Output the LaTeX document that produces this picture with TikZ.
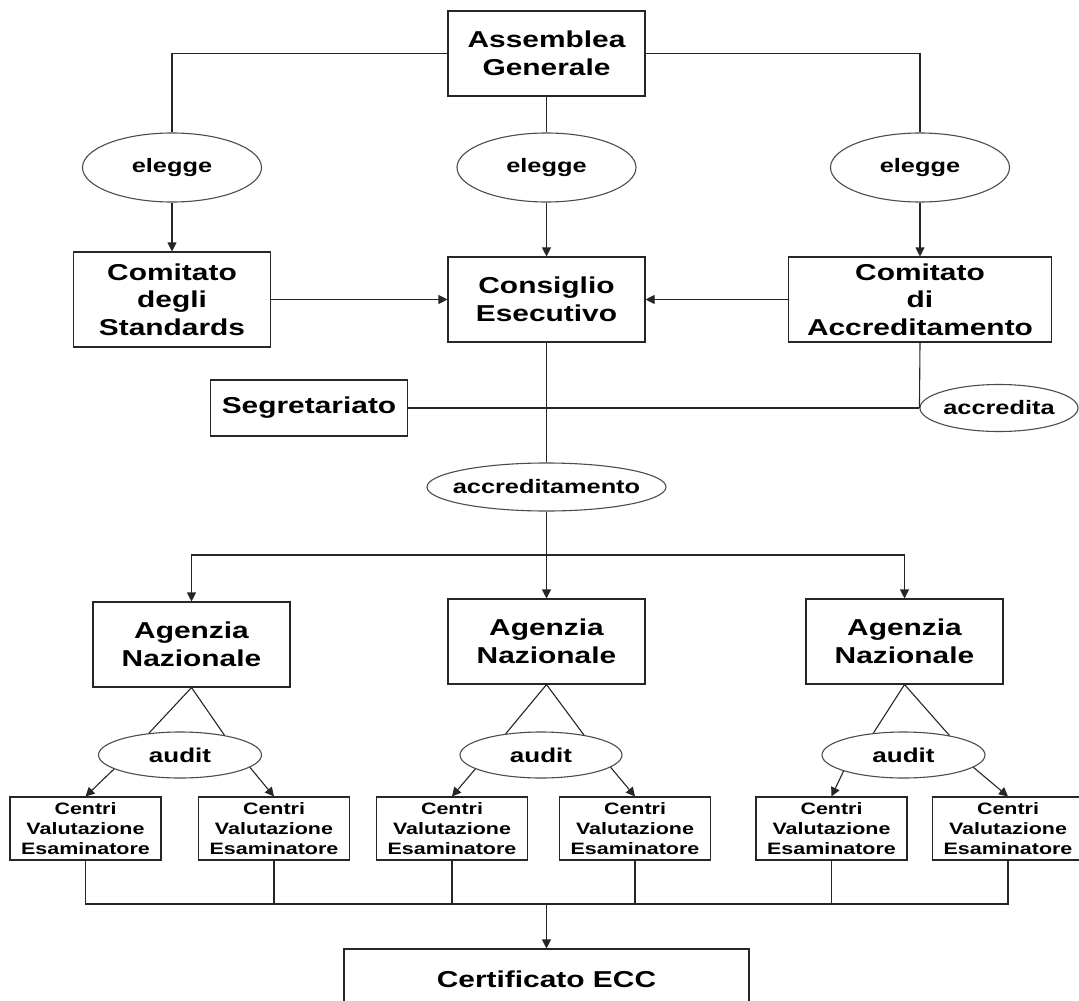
\documentclass[tikz,border=0pt]{standalone}
\usepackage{fontspec}
\newfontfamily\diagfont{Liberation Sans}[FakeStretch=1.3]
\usepackage{tikz}
\usetikzlibrary{shapes.geometric,arrows.meta}
\def\drawline{\draw[line width=1.1pt, color=black!85]}
\def\drawarrow{\draw[line width=1.1pt, color=black!85, -{Triangle[length=9pt,width=9pt]}]}
\newcommand\ovaltxt[1]{\makebox[0pt]{#1}}

\begin{document}
\begin{tikzpicture}[x=1pt,y=-1pt,
  box/.style={draw=black!85, line width=1.1pt, inner sep=0pt, align=center,
    minimum width=197pt, minimum height=85pt,
    font=\diagfont\bfseries\fontsize{23}{27.5}\selectfont},
  oval/.style={ellipse, draw=black!70, line width=1.1pt, inner sep=0pt,
    font=\diagfont\bfseries\fontsize{19.5}{22}\selectfont},
  centro/.style={draw=black!85, line width=1.1pt, inner sep=0pt, align=center,
    minimum width=151pt, minimum height=63pt,
    font=\diagfont\bfseries\fontsize{16.5}{20}\selectfont}]
\useasboundingbox (0,0) rectangle (1079,1001);
\fill[white] (0,0) rectangle (1079,1001);
% vertice
\node[box] (assem) at (546.5,53.5) {Assemblea\\Generale};
\node[oval, minimum width=179pt, minimum height=69pt] (elegl) at (172,167.5) {\ovaltxt{elegge}};
\node[oval, minimum width=179pt, minimum height=69pt] (elegm) at (546.5,167.5) {\ovaltxt{elegge}};
\node[oval, minimum width=179pt, minimum height=69pt] (elegr) at (920,167.5) {\ovaltxt{elegge}};
\node[box, minimum height=95pt] (comstd) at (172,299.5) {Comitato\\degli\\Standards};
\node[box] (consig) at (546.5,299.5) {Consiglio\\Esecutivo};
\node[box, minimum width=263pt] (comacc) at (920,299.5) {Comitato\\di\\Accreditamento};
\node[box, minimum height=56pt] (segr) at (309,408) {Segretariato};
\node[oval, minimum width=158pt, minimum height=47pt] (accr) at (999,408) {\ovaltxt{accredita}};
\node[oval, minimum width=239pt, minimum height=48pt] (accrm) at (546.5,487) {\ovaltxt{accreditamento}};
\coordinate (split) at (546.5,555);
\drawline (assem.west) -| (elegl.north);
\drawline (assem.east) -| (elegr.north);
\drawline (assem.south) -- (elegm.north);
\drawarrow (elegl.south) -- (comstd.north);
\drawarrow (elegm.south) -- (consig.north);
\drawarrow (elegr.south) -- (comacc.north);
\drawarrow (comstd.east) -- (consig.west);
\drawarrow (comacc.west) -- (consig.east);
\drawline (comacc.south) -- (accr.west);
\drawline (segr.east) -- (accr.west);
\drawline (consig.south) -- (accrm.north);
\drawline (accrm.south) -- (split);
% agenzie
\node[box] (agenl) at (191.5,644.5) {Agenzia\\Nazionale};
\node[box] (agenm) at (546.5,641.5) {Agenzia\\Nazionale};
\node[box] (agenr) at (904.5,641.5) {Agenzia\\Nazionale};
\drawarrow (split) -| (agenl.north);
\drawarrow (split) -- (agenm.north);
\drawarrow (split) -| (agenr.north);
\node[oval, minimum width=163pt, minimum height=46pt, font=\diagfont\bfseries\fontsize{20}{22}\selectfont] (audl) at (180,755) {\ovaltxt{audit}};
\node[oval, minimum width=162pt, minimum height=46pt, font=\diagfont\bfseries\fontsize{20}{22}\selectfont] (audm) at (541,755) {\ovaltxt{audit}};
\node[oval, minimum width=163pt, minimum height=46pt, font=\diagfont\bfseries\fontsize{20}{22}\selectfont] (audr) at (903.5,755) {\ovaltxt{audit}};
\drawline (audl.145) -- (agenl.south) -- (audl.24);
\drawline (audm.149) -- (agenm.south) -- (audm.25);
\drawline (audr.144) -- (agenr.south) -- (audr.23);
% centri
\node[centro] (cenA) at (85.5,828.5) {Centri\\Valutazione\\Esaminatore};
\node[centro] (cenB) at (274,828.5) {Centri\\Valutazione\\Esaminatore};
\node[centro] (cenC) at (452,828.5) {Centri\\Valutazione\\Esaminatore};
\node[centro] (cenD) at (635,828.5) {Centri\\Valutazione\\Esaminatore};
\node[centro] (cenE) at (831.5,828.5) {Centri\\Valutazione\\Esaminatore};
\node[centro] (cenF) at (1008,828.5) {Centri\\Valutazione\\Esaminatore};
\drawarrow (audl.192) -- (cenA.north);
\drawarrow (audl.-10) -- (cenB.north);
\drawarrow (audm.192) -- (cenC.north);
\drawarrow (audm.-10) -- (cenD.north);
\drawarrow (audr.195) -- (cenE.north);
\drawarrow (audr.-10) -- (cenF.north);
% certificato
\coordinate (join) at (546.5,904);
\node[box, minimum width=405pt, minimum height=61pt] (cert) at (546.5,979.5) {Certificato ECC};
\drawline (cenA.south) |- (cenF.south |- join) -- (cenF.south);
\drawline (cenB.south) -- (cenB.south |- join);
\drawline (cenC.south) -- (cenC.south |- join);
\drawline (cenD.south) -- (cenD.south |- join);
\drawline (cenE.south) -- (cenE.south |- join);
\drawarrow (join) -- (cert.north);
\end{tikzpicture}
\end{document}
